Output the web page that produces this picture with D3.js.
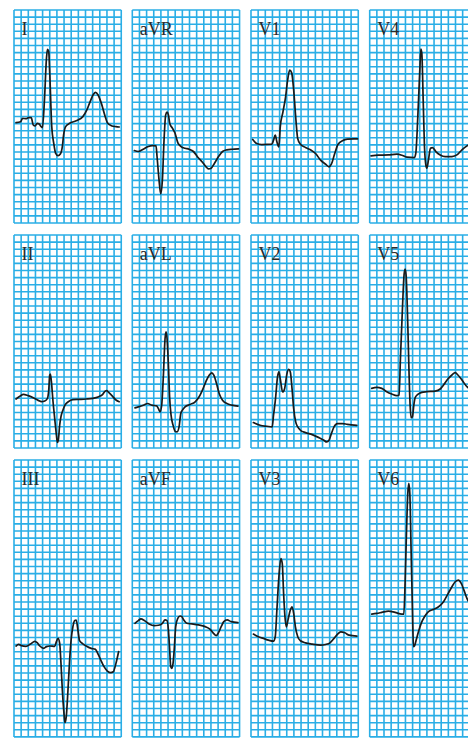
<!DOCTYPE html>
<html><head><meta charset="utf-8">
<script src="https://cdn.jsdelivr.net/npm/d3@7"></script>
<style>html,body{margin:0;padding:0;background:#fff;overflow:hidden}</style>
</head><body>
<svg id="chart" width="468" height="738"></svg>
<script>
// Lead names, in grid order (4 columns x 3 rows)
const leads = ["I","aVR","V1","V4","II","aVL","V2","V5","III","aVF","V3","V6"];
// Isoelectric line position of each lead, in small boxes from the top of its strip
const baselines = [16.0,19.7,18.9,20.5,23.1,24.2,26.8,21.6,26.2,23.0,24.9,21.7];

// Traces: [time in small boxes, amplitude in mm (small boxes), positive up]
const traceI = [[0.28,0.13],[0.93,0.27],[1.2,0.74],[1.67,0.69],[2.04,0.84],[2.41,0.84],[2.69,-0.2],[2.96,-0.34],[3.24,0.04],[3.52,-0.06],[3.8,-0.43],[3.98,-0.57],[4.26,3.32],[4.54,9.19],[4.68,10.46],[4.86,10.13],[5.0,7.08],[5.28,-0.43],[5.56,-2.78],[5.83,-4.19],[6.16,-4.52],[6.48,-4.28],[6.76,-3.25],[6.94,-1.6],[7.22,-0.43],[7.78,0.04],[8.7,0.41],[9.63,0.98],[10.19,1.92],[10.65,3.09],[11.11,4.12],[11.39,4.4],[11.76,4.03],[12.22,2.85],[12.69,1.21],[13.06,0.13],[13.61,-0.29],[14.26,-0.43],[14.72,-0.48]];
const traceAVR = [[0.28,-0.09],[0.84,-0.23],[1.54,0.09],[2.24,0.47],[2.8,0.61],[3.32,0.56],[3.46,-0.94],[3.74,-4.23],[3.97,-6.2],[4.21,-4.23],[4.44,1.41],[4.67,4.93],[4.86,5.31],[5.05,4.93],[5.23,3.76],[5.61,3.05],[5.98,2.35],[6.36,1.03],[6.82,0.47],[7.38,0.23],[7.94,0.09],[8.55,-0.23],[9.16,-1.03],[9.81,-1.74],[10.28,-2.35],[10.65,-2.68],[11.03,-2.58],[11.5,-1.88],[12.06,-0.94],[12.62,-0.23],[13.22,0],[13.93,0.09],[14.86,0.14]];
const traceV1 = [[0.24,0.66],[0.8,0.09],[1.5,-0.05],[2.91,0],[3.15,0.56],[3.39,1.27],[3.62,0.33],[3.9,-0.38],[4.09,2.44],[4.47,4.55],[4.84,6.67],[5.12,9.01],[5.41,10.42],[5.69,10.05],[5.97,7.61],[6.25,3.85],[6.53,0.8],[6.91,0],[7.62,-0.47],[8.42,-0.85],[9.03,-1.31],[9.73,-2.25],[10.44,-2.82],[10.91,-3.19],[11.24,-2.82],[11.71,-1.31],[12.18,0],[12.79,0.47],[13.49,0.7],[14.43,0.75],[14.9,0.75]];
const traceV4 = [[0.19,-0.05],[1.21,0.05],[2.62,0.09],[3.79,0.19],[4.49,0.05],[5.19,-0.23],[6.26,-0.28],[6.45,0.33],[6.73,5.49],[7.01,12.07],[7.15,14.98],[7.29,14.41],[7.48,7.84],[7.66,1.27],[7.85,-1.31],[7.99,-1.78],[8.22,-0.61],[8.5,1.03],[8.79,1.13],[9.25,0.56],[9.86,0.09],[10.56,-0.14],[11.5,-0.14],[12.2,0.09],[12.9,0.8],[13.6,1.36],[14.3,1.74]];
const traceII = [[0.28,0],[0.93,0.47],[1.3,0.66],[1.99,0.47],[2.69,0.19],[3.38,-0.19],[3.84,-0.38],[4.31,-0.28],[4.68,0.09],[4.86,1.27],[5.0,3.38],[5.09,3.52],[5.23,2.44],[5.46,-0.38],[5.69,-2.72],[5.93,-5.07],[6.06,-6.1],[6.2,-5.77],[6.39,-3.66],[6.57,-2.49],[6.85,-1.55],[7.13,-0.85],[7.59,-0.38],[8.24,-0.09],[9.17,-0.05],[10.09,0],[11.02,0.09],[11.85,0.33],[12.41,0.66],[12.78,1.13],[12.96,1.17],[13.24,0.94],[13.7,0.47],[14.26,-0.14],[14.72,-0.38]];
const traceAVL = [[0.37,-0.14],[0.84,0],[1.54,0.23],[2.15,0.47],[2.71,0.23],[3.41,0.14],[3.64,-0.23],[3.88,-0.7],[4.11,0.23],[4.35,4.46],[4.58,9.62],[4.72,10.56],[4.86,9.62],[5.05,5.87],[5.23,1.17],[5.42,-1.17],[5.7,-2.58],[5.98,-3.43],[6.26,-3.52],[6.54,-2.82],[6.78,-0.94],[7.01,-0.47],[7.38,0],[8.08,0.33],[8.79,0.7],[9.35,1.41],[9.81,2.35],[10.28,3.52],[10.75,4.46],[11.12,4.79],[11.4,4.46],[11.78,3.29],[12.15,1.88],[12.62,0.94],[13.22,0.47],[13.93,0.23],[14.77,0.09]];
const traceV2 = [[0.33,0.38],[1.27,0],[2.21,-0.14],[2.96,-0.23],[3.15,1.41],[3.43,3.76],[3.71,6.81],[3.9,7.51],[4.09,6.57],[4.42,4.69],[4.7,5.16],[5.03,7.28],[5.27,7.89],[5.5,7.51],[5.74,5.16],[5.97,2.35],[6.25,0.47],[6.54,-0.23],[6.91,-0.7],[7.62,-1.03],[8.56,-1.31],[9.5,-1.74],[10.2,-2.11],[10.58,-2.35],[10.91,-2.11],[11.24,-1.17],[11.61,-0.23],[12.08,0.23],[12.79,0.23],[13.49,0.14],[14.81,0]];
const traceV5 = [[0.28,0],[0.98,0.14],[1.68,0],[2.38,-0.47],[3.08,-0.8],[3.79,-1.03],[4.11,-0.94],[4.3,4.23],[4.58,11.27],[4.81,16.06],[4.95,16.81],[5.09,15.96],[5.33,8.92],[5.51,1.88],[5.65,-2.35],[5.79,-4.13],[5.98,-3.99],[6.17,-2.35],[6.36,-1.31],[6.73,-0.85],[7.29,-0.56],[7.99,-0.47],[9.16,-0.38],[9.86,-0.09],[10.33,0.47],[10.93,1.31],[11.5,1.88],[11.96,2.21],[12.34,1.88],[12.9,1.17],[13.6,0.23],[14.3,-0.23]];
const traceIII = [[0.28,0],[0.65,0.23],[1.02,0.05],[1.67,-0.05],[2.31,0.28],[2.92,0.66],[3.24,0.47],[3.61,0],[4.17,-0.33],[4.54,-0.09],[5.0,0],[5.69,-0.05],[5.93,0.61],[6.16,1.08],[6.39,0.38],[6.57,-2.44],[6.76,-6.2],[6.99,-9.48],[7.13,-10.8],[7.31,-9.95],[7.55,-6.2],[7.78,-1.97],[8.01,1.08],[8.24,2.72],[8.47,3.57],[8.7,3.66],[8.94,2.25],[9.17,0.75],[9.54,0.38],[10.09,0],[10.79,-0.33],[11.39,-0.47],[11.76,-1.13],[12.13,-1.97],[12.59,-2.91],[13.06,-3.52],[13.52,-3.76],[13.89,-3.62],[14.26,-2.44],[14.63,-0.8]];
const traceAVF = [[0.37,0],[0.84,0.38],[1.21,0.61],[1.68,0.38],[2.34,-0.09],[3.08,-0.33],[3.64,-0.28],[4.21,0],[4.58,0.47],[4.86,0.38],[5.05,-0.94],[5.23,-3.76],[5.37,-6.1],[5.51,-6.34],[5.7,-5.63],[5.89,-3.29],[6.07,-0.47],[6.36,0.7],[6.68,1.03],[6.92,0.94],[7.2,0.47],[7.62,0],[8.32,-0.09],[9.25,-0.23],[10.19,-0.47],[10.89,-0.85],[11.36,-1.41],[11.73,-1.74],[12.06,-1.31],[12.43,-0.47],[12.8,0.23],[13.27,0.47],[13.83,0.23],[14.77,0.09]];
const traceV3 = [[0.33,0.38],[1.03,0],[1.74,-0.23],[2.44,-0.47],[3.15,-0.61],[3.39,0],[3.62,3.76],[3.9,8.45],[4.18,11.03],[4.37,10.33],[4.56,6.1],[4.75,2.82],[4.94,1.41],[5.17,2.35],[5.5,3.76],[5.74,4.23],[5.97,3.29],[6.21,1.41],[6.54,0],[6.91,-0.56],[7.62,-0.85],[8.56,-1.03],[9.73,-1.17],[10.44,-1.08],[11.05,-0.85],[11.61,-0.23],[12.08,0.33],[12.55,0.7],[13.12,0.56],[13.73,0.23],[14.81,0.09]];
const traceV6 = [[0.28,0],[0.98,0.09],[1.68,0.23],[2.62,0.42],[3.55,0.23],[4.49,0],[4.77,0],[4.95,4.32],[5.14,11.36],[5.33,17.0],[5.47,18.4],[5.61,17.0],[5.79,9.01],[5.98,0.56],[6.12,-4.6],[6.26,-4.51],[6.5,-3.66],[6.82,-2.49],[7.2,-1.31],[7.66,-0.38],[8.22,0.33],[8.93,0.66],[9.63,1.03],[10.33,1.74],[10.93,2.82],[11.5,3.85],[11.96,4.55],[12.43,4.79],[12.8,4.32],[13.18,3.38],[13.6,2.21],[14.3,1.03]];

const traces = [traceI,traceAVR,traceV1,traceV4,traceII,traceAVL,traceV2,traceV5,traceIII,traceAVF,traceV3,traceV6];

// Layout
const colLeft = [14, 132.3, 251, 369.7];
const rowTop = [10, 235, 460];
const rowCells = [30, 30, 39];
const colCells = 15;
const cellW = 7.15, cellH = 7.1;

const svg = d3.select("#chart");

leads.forEach((name, i) => {
  const c = i % 4, r = Math.floor(i / 4);
  const left = colLeft[c], top = rowTop[r], nR = rowCells[r];
  const x = d3.scaleLinear().domain([0, colCells]).range([left, left + colCells * cellW]);
  const y = d3.scaleLinear().domain([0, nR]).range([top, top + nR * cellH]);
  const g = svg.append("g");
  // grid
  g.selectAll("line.v").data(d3.range(colCells + 1)).join("line")
    .attr("x1", d => x(d)).attr("x2", d => x(d))
    .attr("y1", y(0)).attr("y2", y(nR))
    .attr("stroke", "#2aaee6").attr("stroke-width", 1.6);
  g.selectAll("line.h").data(d3.range(nR + 1)).join("line")
    .attr("x1", x(0)).attr("x2", x(colCells))
    .attr("y1", d => y(d)).attr("y2", d => y(d))
    .attr("stroke", "#2aaee6").attr("stroke-width", 1.6);
  // label
  g.append("text").attr("x", x(0) + 7.5).attr("y", y(0) + 25)
    .attr("font-family", "'Liberation Serif', 'Times New Roman', serif")
    .attr("font-size", 18).attr("fill", "#2a2a2a").text(name);
  // trace
  const base = baselines[i];
  const line = d3.line().x(d => x(d[0])).y(d => y(base - d[1])).curve(d3.curveMonotoneX);
  g.append("path").attr("d", line(traces[i]))
    .attr("fill", "none").attr("stroke", "#1a1a1a").attr("stroke-width", 1.7)
    .attr("stroke-linejoin", "round").attr("stroke-linecap", "round");
});
</script>
</body></html>
